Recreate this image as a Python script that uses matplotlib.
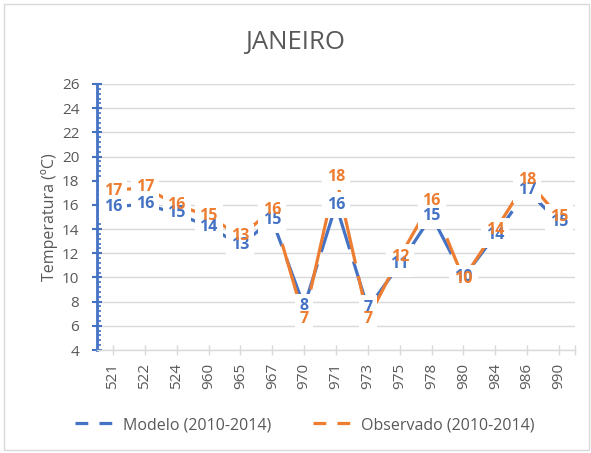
import numpy as np
import matplotlib
matplotlib.use("Agg")
import matplotlib.pyplot as plt
from matplotlib.lines import Line2D
from matplotlib.patches import Rectangle
from matplotlib.ticker import MultipleLocator, FixedLocator

plt.rcParams['font.family'] = ['Open Sans', 'DejaVu Sans']

estacoes = ['521', '522', '524', '960', '965', '967', '970', '971',
            '973', '975', '978', '980', '984', '986', '990']
modelo = [15.85, 16.05, 15.3, 14.2, 12.7, 14.75, 7.6, 16.0,
          7.45, 11.1, 15.1, 10.0, 13.5, 17.2, 14.55]
observado = [17.18, 17.45, 16.0, 15.08, 13.4, 15.6, 6.55, 18.33,
             6.6, 11.7, 16.3, 9.9, 13.9, 18.06, 15.0]

azul = '#4472C4'
laranja = '#ED7D31'
cinza = '#595959'
grade = '#D9D9D9'

fig = plt.figure(figsize=(5.91, 4.53), dpi=100)
ax = fig.add_axes([97/591, 1-350/453, 478/591, 266/453])

x = np.arange(len(estacoes))
ax.plot(x, modelo, color=azul, lw=2.3, ls=(0, (30, 4)), zorder=2)
ax.plot(x, observado, color=laranja, lw=2.3, ls=(0, (30, 4)), zorder=2)

# caixas brancas primeiro, depois os textos
for serie, cor in [(modelo, azul), (observado, laranja)]:
    for xi, v in zip(x, serie):
        ax.text(xi, v, '%.0f' % v, ha='center', va='center', fontsize=11.5,
                fontweight='bold', color='none', zorder=3,
                bbox=dict(boxstyle='square,pad=0.3', fc='white', ec='none'))
for serie, cor in [(modelo, azul), (observado, laranja)]:
    for xi, v in zip(x, serie):
        ax.text(xi, v, '%.0f' % v, ha='center', va='center', fontsize=11.5,
                fontweight='bold', color=cor, zorder=4)

ax.set_xlim(-0.5, 14.5)
ax.set_ylim(4, 26)
ax.set_xticks(x)
ax.set_xticklabels(estacoes, rotation=90, fontsize=11, color=cinza)
ax.xaxis.set_minor_locator(FixedLocator([14.5]))
ax.yaxis.set_major_locator(MultipleLocator(2))
ax.yaxis.set_minor_locator(MultipleLocator(0.4))
ax.tick_params(axis='y', which='major', direction='inout', length=7.5,
               width=1.5, color=azul, labelcolor=cinza, labelsize=11, pad=9)
ax.tick_params(axis='y', which='minor', direction='in', length=3,
               width=1.2, color=azul)
ax.tick_params(axis='x', which='both', direction='inout', length=7,
               width=1, color=grade, pad=6)
ax.grid(axis='y', color=grade, lw=1)
ax.set_axisbelow(True)
for s in ['top', 'right']:
    ax.spines[s].set_visible(False)
ax.spines['left'].set_color(azul)
ax.spines['left'].set_linewidth(2)
ax.spines['bottom'].set_color(grade)
ax.spines['bottom'].set_linewidth(1)

ax.set_ylabel('Temperatura (ºC)', fontsize=11.5, color=cinza, labelpad=3)
fig.text(0.5, 1-42/453, 'JANEIRO', ha='center', va='center',
         fontsize=18.5, color=cinza)

handles = [Line2D([], [], color=azul, lw=2.3, dashes=(4, 3.5)),
           Line2D([], [], color=laranja, lw=2.3, dashes=(4, 3.5))]
fig.legend(handles, ['Modelo (2010-2014)', 'Observado (2010-2014)'],
           loc='center', bbox_to_anchor=(305/591, 1-425/453), ncol=2,
           frameon=False, fontsize=11.5, labelcolor=cinza,
           handlelength=2.7, handletextpad=0.3, columnspacing=2.6)

fig.add_artist(Rectangle((4/591, 3/453), 585/591, 446/453,
                         transform=fig.transFigure, fill=False,
                         ec=grade, lw=1))

fig.savefig('out.png', dpi=100)
